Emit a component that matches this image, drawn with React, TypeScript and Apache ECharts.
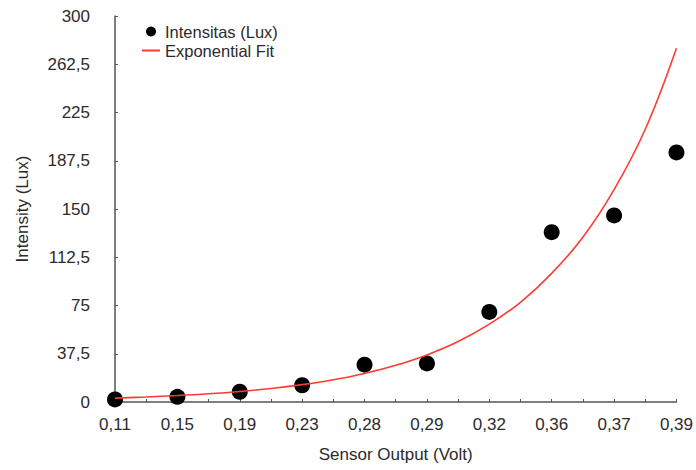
import React, { useEffect, useRef } from "react";
import * as echarts from "echarts";

const categories = ["0,11", "0,15", "0,19", "0,23", "0,28", "0,29", "0,32", "0,36", "0,37", "0,39"];
const intensity = [2, 4, 8, 13, 29, 30, 70, 132, 145, 194];
// Exponential fit curve, read at every half category step
const fitX = [0, 0.5, 1, 1.5, 2, 2.5, 3, 3.5, 4, 4.5, 5, 5.5, 6, 6.5, 7, 7.5, 8, 8.5, 9];
const fitY = [3.0, 3.9, 5.0, 6.4, 8.2, 10.5, 13.5, 17.3, 22.2, 28.5, 36.6, 47, 60.5, 77.5, 100, 128, 165, 212, 275];
const yTicks = { min: 0, max: 300, interval: 37.5 };

const FONT = "'Liberation Sans', Arial, Helvetica, sans-serif";
const TXT = "#2b2b2b";

export default function App() {
  const ref = useRef<HTMLDivElement>(null);
  useEffect(() => {
    document.body.style.margin = "0";
    if (!ref.current) return;
    const chart = echarts.init(ref.current, undefined, { renderer: "svg" });
    const axisColor = "#555";
    chart.setOption({
      animation: false,
      textStyle: { fontFamily: FONT },
      grid: { left: 115, right: 18, top: 16, bottom: 68 },
      legend: {
        orient: "vertical",
        left: 136,
        top: 18,
        itemGap: 2,
        itemWidth: 18,
        itemHeight: 10,
        textStyle: { fontFamily: FONT, fontSize: 16.5, color: TXT },
        data: [
          { name: "Intensitas (Lux)", icon: "circle" },
          { name: "Exponential Fit", itemStyle: { opacity: 0 } },
        ],
      },
      xAxis: {
        type: "value",
        min: 0,
        max: categories.length - 1,
        interval: 1,
        name: "Sensor Output (Volt)",
        nameLocation: "middle",
        nameGap: 44,
        nameTextStyle: { fontFamily: FONT, fontSize: 17, color: TXT },
        axisLine: { show: true, lineStyle: { color: axisColor, width: 1.5 } },
        axisTick: { show: true, inside: true, length: 3, lineStyle: { color: axisColor } },
        minorTick: { show: true, splitNumber: 2, length: 3, lineStyle: { color: axisColor } },
        splitLine: { show: false },
        axisLabel: {
          fontFamily: FONT,
          fontSize: 17,
          color: TXT,
          margin: 14,
          formatter: (v: number) => categories[Math.round(v)] ?? "",
        },
      },
      yAxis: {
        type: "value",
        min: yTicks.min,
        max: yTicks.max,
        interval: yTicks.interval,
        name: "Intensity (Lux)",
        nameLocation: "middle",
        nameGap: 84,
        nameRotate: 90,
        nameTextStyle: { fontFamily: FONT, fontSize: 17, color: TXT },
        axisLine: { show: true, lineStyle: { color: axisColor, width: 1.5 } },
        axisTick: { show: true, inside: true, length: 3, lineStyle: { color: axisColor } },
        splitLine: { show: false },
        axisLabel: {
          fontFamily: FONT,
          fontSize: 17,
          color: TXT,
          margin: 25,
          formatter: (v: number) => String(v).replace(".", ","),
        },
      },
      series: [
        {
          name: "Exponential Fit",
          type: "line",
          data: fitX.map((x, i) => [x, fitY[i]]),
          smooth: 0.4,
          showSymbol: false,
          symbol: "none",
          lineStyle: { color: "#ff3b30", width: 1.6 },
          itemStyle: { color: "#ff3b30" },
          z: 3,
        },
        {
          name: "Intensitas (Lux)",
          type: "scatter",
          data: intensity.map((v, i) => [i, v]),
          symbolSize: 16,
          itemStyle: { color: "#000", opacity: 1 },
          z: 2,
        },
      ],
    });
    return () => chart.dispose();
  }, []);
  return <div ref={ref} style={{ width: 696, height: 470 }} />;
}
